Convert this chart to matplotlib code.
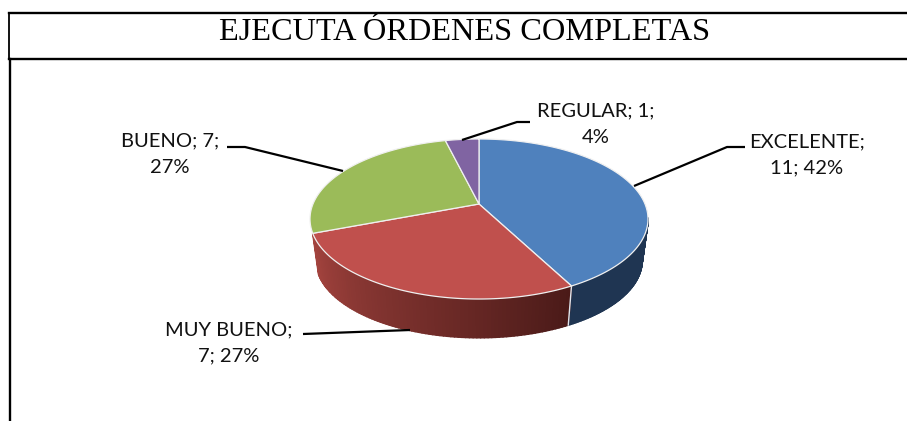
#!/usr/bin/env python3
"""Pie chart in Excel's 3D look, drawn on a pixel-sized full-figure axes."""

import numpy as np
import matplotlib
matplotlib.use("Agg")
import matplotlib.pyplot as plt
from matplotlib.colors import to_rgb

W, H = 907, 421

CATEGORIES = ["EXCELENTE", "MUY BUENO", "BUENO", "REGULAR"]
VALUES = [11, 7, 7, 1]
PERCENTS = ["42%", "27%", "27%", "4%"]
COLORS = ["#4f81bd", "#c0504d", "#9bbb59", "#8064a2"]
TITLE = "EJECUTA ÓRDENES COMPLETAS"

# perspective of the pie disc, in pixels
CX, CY = 479, 204
BX, BY = 166, 77.2
K = 0.1875
BOTTOM_CY = 246
BOTTOM_SCALE = 0.965


def project(theta, bottom=False):
    """Angle clockwise from 12 o'clock (radians) to figure pixels."""
    u, v = np.sin(theta), np.cos(theta)
    x = BX * u / (1 + K * v)
    y = -BY * v / (1 + K * v)
    if bottom:
        return CX + x * BOTTOM_SCALE, BOTTOM_CY + y * BOTTOM_SCALE
    return CX + x, CY + y


def mix(a, b, t):
    a, b = np.array(to_rgb(a)), np.array(to_rgb(b))
    return tuple(a + (b - a) * t)


def draw_wall(ax, t0, t1, color_at):
    ts = np.linspace(t0, t1, 90)
    for a, b in zip(ts[:-1], ts[1:]):
        xa, ya = project(a)
        xb, yb = project(b)
        xc, yc = project(b, True)
        xd, yd = project(a, True)
        col = color_at((a - t0) / (t1 - t0))
        ax.fill([xa, xb, xc, xd], [ya, yb, yc, yd], facecolor=col,
                edgecolor=col, linewidth=1.2, joinstyle="round", zorder=2)


def main():
    fig = plt.figure(figsize=(W / 100, H / 100), dpi=100)
    ax = fig.add_axes([0, 0, 1, 1])
    ax.set_xlim(0, W)
    ax.set_ylim(H, 0)
    ax.axis("off")

    # frame
    ax.plot([9, W], [13, 13], color="black", lw=1.7, zorder=1)
    ax.plot([9, W], [59, 59], color="black", lw=1.7, zorder=1)
    ax.plot([9, 9], [13, 59], color="black", lw=1.3, zorder=1)
    ax.plot([10, 10], [59, H], color="black", lw=1.7, zorder=1)
    ax.text(465, 33, TITLE, family="Liberation Serif", fontsize=23.3,
            ha="center", va="center", color="black")

    fracs = np.cumsum([0] + VALUES) / sum(VALUES)
    angles = fracs * 2 * np.pi

    # side wall
    draw_wall(ax, np.radians(100), angles[1], lambda t: "#1f3552")
    draw_wall(ax, angles[2], angles[1],
              lambda t: mix("#a5443f", "#4a1a18", t))
    xa, ya = project(angles[1])
    xb, yb = project(angles[1], True)
    ax.plot([xa, xb], [ya, yb], color="#dfe6ee", lw=1, zorder=3)

    # top face
    for i, col in enumerate(COLORS):
        ts = np.linspace(angles[i], angles[i + 1], 120)
        xs, ys = project(ts)
        ax.fill(np.r_[CX, xs], np.r_[CY, ys], facecolor=col,
                edgecolor="#f0f0f0", linewidth=0.9, joinstyle="round",
                zorder=4)

    # leader lines
    leaders = [
        ([634, 727, 745], [186, 147, 147]),
        ([410, 303], [330, 334]),
        ([343, 245, 227], [171, 147, 147]),
        ([462, 517, 530], [140, 122, 122]),
    ]
    for xs, ys in leaders:
        ax.plot(xs, ys, color="black", lw=1.6, zorder=5,
                solid_capstyle="butt")

    # labels, with the line breaks of the original
    texts = [
        f"{CATEGORIES[0]};\n{VALUES[0]}; {PERCENTS[0]}",
        f"{CATEGORIES[1]};\n{VALUES[1]}; {PERCENTS[1]}",
        f"{CATEGORIES[2]}; {VALUES[2]};\n{PERCENTS[2]}",
        f"{CATEGORIES[3]}; {VALUES[3]};\n{PERCENTS[3]}",
    ]
    spots = [(807, 155), (229, 343), (170, 154), (596, 124)]
    for s, (x, y) in zip(texts, spots):
        ax.text(x, y, s, family="Lato", fontsize=14.5, ha="center",
                va="center", linespacing=1.66, color="#111111", zorder=6)

    fig.savefig("out.png", dpi=100)


if __name__ == "__main__":
    main()
